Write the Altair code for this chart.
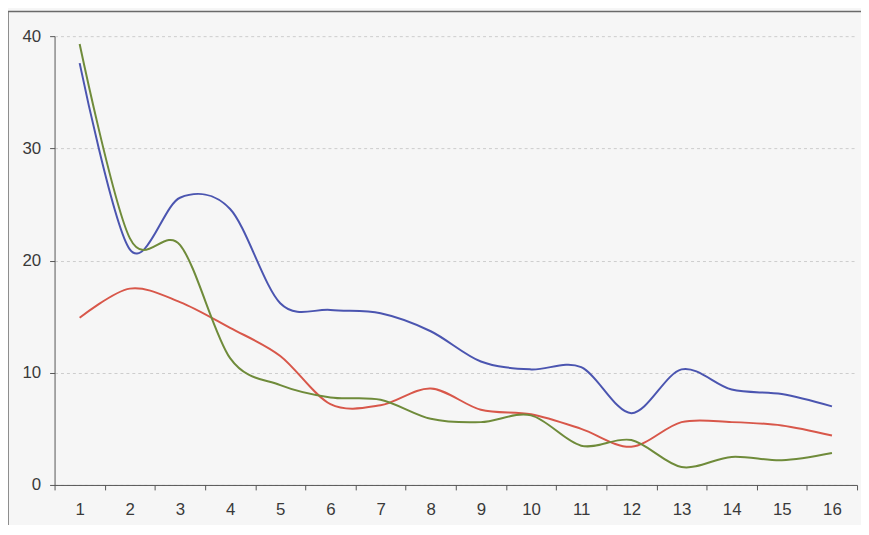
import altair as alt
import pandas as pd

categories = [str(i) for i in range(1, 17)]
blue = [37.6, 21.0, 25.6, 24.6, 16.2, 15.6, 15.3, 13.7, 11.0, 10.3, 10.5, 6.4, 10.3, 8.5, 8.1, 7.0]
red = [14.9, 17.5, 16.3, 14.0, 11.5, 7.2, 7.1, 8.6, 6.7, 6.3, 5.0, 3.4, 5.6, 5.6, 5.3, 4.4]
green = [39.3, 22.0, 21.4, 11.3, 8.9, 7.8, 7.6, 5.9, 5.6, 6.2, 3.5, 4.0, 1.6, 2.5, 2.2, 2.85]
series_names = ["A", "B", "C"]
series_colors = ["#4b55b0", "#d8574a", "#6f8b3a"]
y_ticks = [0, 10, 20, 30, 40]

rows = []
for name, vals in zip(series_names, [blue, red, green]):
    for c, v in zip(categories, vals):
        rows.append({"cat": c, "value": v, "series": name})
df = pd.DataFrame(rows)

label_font = "Liberation Sans"
text_color = "#3a3a3a"
axis_color = "#555555"

x_enc = alt.X(
    "cat:O",
    sort=categories,
    bandPosition=0.5,
    scale=alt.Scale(type="band", paddingInner=0, paddingOuter=0),
    axis=alt.Axis(
        title=None, labelAngle=0, tickBand="extent", tickSize=5,
        labelPadding=12, labelFontSize=17, labelColor=text_color,
        labelFont=label_font, domainColor=axis_color, tickColor=axis_color,
        grid=False,
    ),
)

lines = alt.Chart(df).mark_line(interpolate="cardinal", tension=0.05, strokeWidth=2).encode(
    x=x_enc,
    y=alt.Y(
        "value:Q",
        scale=alt.Scale(domain=[0, 40], nice=False),
        axis=alt.Axis(
            title=None, values=y_ticks, tickSize=5, labelPadding=9,
            labelFontSize=17, labelColor=text_color, labelFont=label_font,
            domainColor=axis_color, tickColor=axis_color,
            grid=True, gridColor="#cccccc", gridDash=[3, 3], gridWidth=1,
        ),
    ),
    color=alt.Color("series:N", scale=alt.Scale(domain=series_names, range=series_colors), legend=None),
    detail="series:N",
)

border = pd.DataFrame({"k": [0]})
left_rule = alt.Chart(border).mark_rule(color="#6a6a6a", strokeWidth=1.5).encode(
    x=alt.value(-47), y=alt.value(-25), y2=alt.value(520)
)
top_rule = alt.Chart(border).mark_rule(color="#6a6a6a", strokeWidth=1.5).encode(
    x=alt.value(-47), x2=alt.value(830), y=alt.value(-25)
)

chart = alt.layer(lines, left_rule, top_rule).properties(
    width=810, height=453,
    autosize=alt.AutoSizeParams(type="none"),
    padding={"left": 47, "top": 26, "right": 4, "bottom": 38},
    background="#f6f6f6",
).configure_view(stroke=None)

chart.save("out.html", embed_options={"renderer": "svg", "actions": False})
